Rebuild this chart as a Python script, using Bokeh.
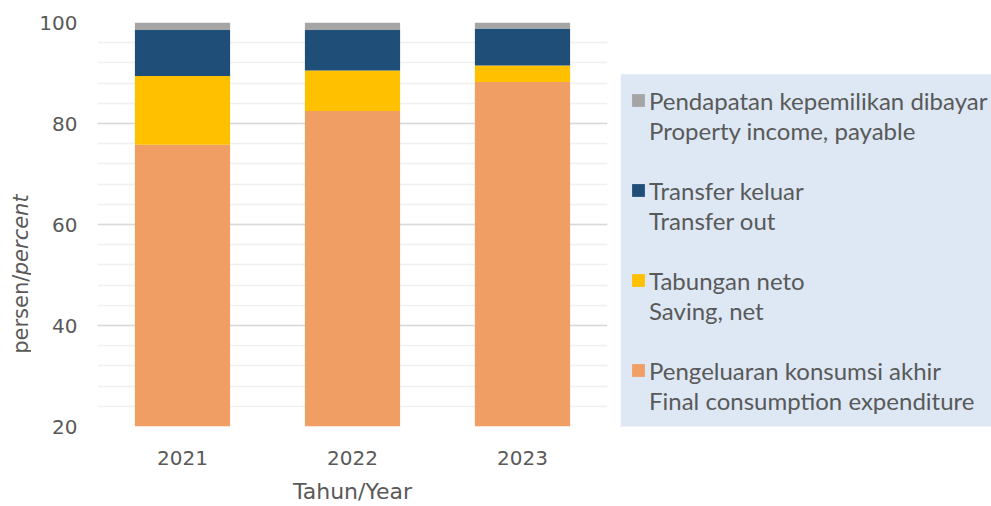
from bokeh.plotting import figure
from bokeh.layouts import row
from bokeh.models import (Range1d, FactorRange, Legend, LegendItem, Label,
                          SingleIntervalTicker, ColumnDataSource, BoxAnnotation)
from bokeh.embed import file_html
from bokeh.resources import INLINE
import math

years = ["2021", "2022", "2023"]
konsumsi = [75.8, 82.5, 88.2]
tabungan = [13.6, 8.0, 3.3]
transfer = [9.1, 8.0, 7.3]
properti = [1.5, 1.5, 1.2]

series = ["konsumsi", "tabungan", "transfer", "properti"]
colors = ["#F09E64", "#FFC000", "#1F4E79", "#A5A5A5"]
labels_id = ["Pengeluaran konsumsi akhir", "Tabungan neto", "Transfer keluar",
             "Pendapatan kepemilikan dibayar"]
labels_en = ["Final consumption expenditure", "Saving, net", "Transfer out",
             "Property income, payable"]

src = ColumnDataSource(dict(years=years, konsumsi=konsumsi, tabungan=tabungan,
                            transfer=transfer, properti=properti))

AX_FONT = "DejaVu Sans"
TXT = "#595959"
H = 506
FRAME_TOP, FRAME_BOTTOM = 22, 428   # page rows of the aligned plot frames

# ---- left strip with the y-axis title (mixed styles) ----
YLW = 31
yl = figure(width=YLW, height=H, x_range=Range1d(0, YLW),
            y_range=Range1d(H - FRAME_BOTTOM, H - FRAME_TOP),
            x_axis_type=None, y_axis_type=None, output_backend="svg",
            toolbar_location=None, min_border=0)
yl.outline_line_color = None
yl.xgrid.visible = False
yl.ygrid.visible = False
yl.add_layout(Label(x=20, y=H - 355, text="persen/", angle=math.pi / 2,
                    text_align="left", text_baseline="middle",
                    text_font=AX_FONT, text_font_size="21px", text_color=TXT))
yl.add_layout(Label(x=20, y=H - 276, text="percent", angle=math.pi / 2,
                    text_align="left", text_baseline="middle",
                    text_font=AX_FONT, text_font_size="21px",
                    text_font_style="italic", text_color=TXT))

# ---- main chart ----
p = figure(width=620 - YLW, height=H, x_range=FactorRange(*years, range_padding=0),
           y_range=Range1d(20, 100), output_backend="svg", toolbar_location=None,
           min_border_left=97 - YLW, min_border_right=13, min_border_top=FRAME_TOP,
           min_border_bottom=H - FRAME_BOTTOM)
p.outline_line_color = None

rs = p.vbar_stack(series, x="years", width=0.56, color=colors, line_color=None,
                  source=src)

p.yaxis.ticker = SingleIntervalTicker(interval=20, num_minor_ticks=5)
for ax in (p.xaxis, p.yaxis):
    ax.axis_line_color = None
    ax.major_tick_line_color = None
    ax.minor_tick_line_color = None
    ax.major_tick_out = 0
    ax.major_tick_in = 0
    ax.minor_tick_out = 0
    ax.minor_tick_in = 0
    ax.major_label_text_font = AX_FONT
    ax.major_label_text_font_size = "20px"
    ax.major_label_text_color = TXT
p.yaxis.major_label_standoff = 20
p.xaxis.major_label_standoff = 24
p.xaxis.axis_label = "Tahun/Year"
p.xaxis.axis_label_text_font = AX_FONT
p.xaxis.axis_label_text_font_size = "22px"
p.xaxis.axis_label_text_font_style = "normal"
p.xaxis.axis_label_text_color = TXT
p.xaxis.axis_label_standoff = 11

p.xgrid.grid_line_color = None
p.ygrid.grid_line_color = "#D9D9D9"
p.ygrid.grid_line_width = 1.5
p.ygrid.minor_grid_line_color = "#F0F0F0"
p.ygrid.minor_grid_line_width = 1.5

# ---- legend panel ----
LW = 371
lf = figure(width=LW, height=H, x_range=Range1d(0, LW),
            y_range=Range1d(H - FRAME_BOTTOM, H - FRAME_TOP),
            x_axis_type=None, y_axis_type=None, output_backend="svg",
            toolbar_location=None, min_border=0)
lf.outline_line_color = None
lf.xgrid.visible = False
lf.ygrid.visible = False

# light-blue legend panel background
lf.add_layout(BoxAnnotation(left=0, right=LW, bottom=H - 431, top=H - 74,
                            fill_color="#DDE8F4", fill_alpha=1,
                            line_color=None, level="underlay"))

# swatch renderers hold one point outside the visible range (legend only)
swatch = {s: lf.vbar(x=[-100], top=[-100], bottom=[-101], width=1, color=c,
                     line_color=None)
          for s, c in zip(series, colors)}
blank = lf.vbar(x=[-100], top=[-100], bottom=[-101], width=1, fill_alpha=0,
                line_alpha=0)

items = []
order = [3, 2, 1, 0]
for k, i in enumerate(order):
    items.append(LegendItem(label=labels_id[i], renderers=[swatch[series[i]]]))
    items.append(LegendItem(label=labels_en[i], renderers=[blank]))
    if k < len(order) - 1:
        items.append(LegendItem(label=" ", renderers=[blank]))

legend = Legend(items=items, location=(10, 11), orientation="vertical",
                padding=11, margin=0, spacing=0, label_height=30,
                glyph_width=16, glyph_height=16, label_standoff=3,
                label_text_font="Lato", label_text_font_size="24px",
                label_text_color=TXT, background_fill_alpha=0,
                border_line_color=None)
lf.add_layout(legend)

layout = row(yl, p, lf, spacing=0)
open("out.html", "w").write(file_html(layout, INLINE))
